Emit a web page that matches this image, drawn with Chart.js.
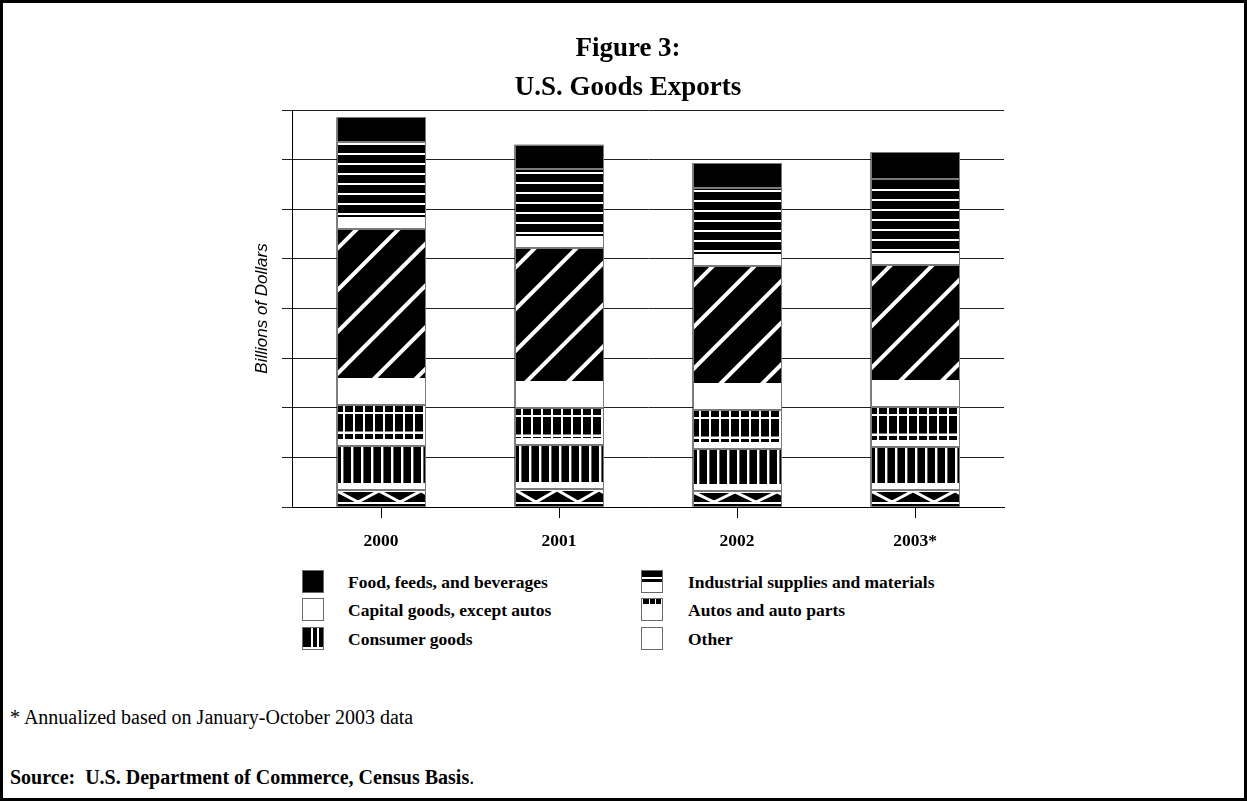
<!DOCTYPE html>
<html>
<head>
<meta charset="utf-8">
<script src="https://cdn.jsdelivr.net/npm/chart.js@4/dist/chart.umd.min.js"></script>
<style>
  html, body { margin: 0; padding: 0; background: #fff; }
  body { width: 1247px; height: 801px; position: relative; overflow: hidden; }
  #frame { position: absolute; left: 0; top: 0; width: 1247px; height: 801px; box-sizing: border-box; border: 3px solid #000; }
  #wrap { position: absolute; left: 0; top: 0; width: 1247px; height: 560px; }
  .leg { position: absolute; height: 24px; line-height: 24px; font-family: "Liberation Serif", "Times New Roman", serif; font-weight: bold; font-size: 17.5px; color: #000; white-space: nowrap; }
  .sw { position: absolute; }
  .note { position: absolute; left: 10px; font-family: "Liberation Serif", "Times New Roman", serif; font-size: 20px; color: #000; white-space: nowrap; line-height: 22px; height: 22px; }
</style>
</head>
<body>
<div id="frame"></div>
<div id="wrap"><canvas id="chart"></canvas></div>
<div id="legend"></div>
<div class="note" style="top:706px;">* Annualized based on January-October 2003 data</div>
<div class="note" style="top:766px;"><b>Source:&nbsp; U.S. Department of Commerce, Census Basis</b>.</div>
<script>
// ---- data (billions of dollars) ----
const years = ['2000', '2001', '2002', '2003*'];
const otherGoods = [35, 36, 33, 34];
const consumerGoods = [87, 88, 84, 87];
const autosParts = [83, 75, 79, 81];
const capitalGoods = [356, 322, 290, 286];
const industrialSupplies = [175, 160, 157, 173];
const foodFeeds = [49, 49, 50, 54];
const yMin = 0, yMax = 800, yStep = 100;
const titleLines = ['Figure 3:', 'U.S. Goods Exports'];
const yTitle = 'Billions of Dollars';

// ---- patterns drawn inside each bar element ----
function drawPattern(ctx, kind, L, T, W, H) {
  const B = T + H;
  ctx.fillStyle = '#000';
  ctx.fillRect(L, T, W, H);
  ctx.fillStyle = '#fff';
  ctx.strokeStyle = '#fff';
  if (kind === 'industrial') {
    const band = 12;
    ctx.fillRect(L, B - band, W, band);
    for (let yy = B - band - 3; yy > T + 1.5; yy -= 10) ctx.fillRect(L, yy - 1, W, 2);
  } else if (kind === 'capital') {
    const band = 27;
    ctx.fillRect(L, B - band, W, band);
    ctx.save();
    ctx.beginPath(); ctx.rect(L, T, W, H - band); ctx.clip();
    ctx.lineWidth = 4;
    for (let k = -2; k < 12; k++) {
      const yi = T + 20 + k * 41.7;
      ctx.beginPath(); ctx.moveTo(L - 5, yi + 5); ctx.lineTo(L + W + 5, yi - W - 5); ctx.stroke();
    }
    ctx.restore();
  } else if (kind === 'autos') {
    ctx.fillRect(L, B - 7, W, 7);
    ctx.fillRect(L, T + 7, W, 2);
    ctx.fillRect(L, T + 26.5, W, 2.5);
    for (let xx = L + 6; xx < L + W - 1; xx += 10) ctx.fillRect(xx, T, 2, H - 7);
  } else if (kind === 'consumer') {
    ctx.fillRect(L, B - 7, W, 7);
    for (let xx = L + 4; xx < L + W - 1; xx += 10) ctx.fillRect(xx, T, 2.4, H - 7);
  } else if (kind === 'other') {
    ctx.fillRect(L, T, W, 2);
    ctx.fillRect(L, B - 5, W, 2);
    ctx.save();
    ctx.beginPath(); ctx.rect(L, T + 2, W, H - 7); ctx.clip();
    ctx.lineWidth = 3;
    ctx.beginPath();
    const top = T + 1, bot = B - 5, per = 42;
    for (let xx = L - per; xx < L + W + per; xx += per) {
      ctx.moveTo(xx, top); ctx.lineTo(xx + per / 2, bot); ctx.lineTo(xx + per, top);
    }
    ctx.stroke();
    ctx.restore();
  }
}

const kinds = ['other', 'consumer', 'autos', 'capital', 'industrial', 'food'];
const names = ['Other', 'Consumer goods', 'Autos and auto parts', 'Capital goods, except autos', 'Industrial supplies and materials', 'Food, feeds, and beverages'];
const values = [otherGoods, consumerGoods, autosParts, capitalGoods, industrialSupplies, foodFeeds];

const patternPlugin = {
  id: 'patternBars',
  afterDatasetsDraw(chart) {
    const ctx = chart.ctx;
    chart.data.datasets.forEach((ds, i) => {
      const meta = chart.getDatasetMeta(i);
      meta.data.forEach(el => {
        const p = el.getProps(['x', 'y', 'base', 'width'], true);
        const L = Math.round(p.x - p.width / 2);
        const R = Math.round(p.x + p.width / 2);
        const T = Math.round(Math.min(p.y, p.base));
        const Bt = Math.round(Math.max(p.y, p.base));
        ctx.save();
        ctx.beginPath(); ctx.rect(L, T, R - L, Bt - T); ctx.clip();
        drawPattern(ctx, ds.kind, L, T, R - L, Bt - T);
        ctx.restore();
        ctx.save();
        ctx.strokeStyle = '#7a7a7a';
        ctx.lineWidth = 1;
        ctx.strokeRect(L + 0.5, T + 0.5, R - L - 1, Bt - T - 1);
        ctx.restore();
      });
    });
  }
};

const serif = '"Liberation Serif", "Times New Roman", serif';

new Chart(document.getElementById('chart'), {
  type: 'bar',
  data: {
    labels: years,
    datasets: values.map((v, i) => ({
      label: names[i], kind: kinds[i], data: v,
      backgroundColor: '#000', borderWidth: 0,
      barPercentage: 0.5, categoryPercentage: 1.0
    }))
  },
  options: {
    responsive: true, maintainAspectRatio: false, animation: false,
    layout: { padding: { left: 252, right: 243, top: 0, bottom: 0 } },
    plugins: {
      legend: { display: false },
      tooltip: { enabled: false },
      title: {
        display: true, text: titleLines, color: '#000',
        font: { family: serif, weight: 'bold', size: 27, lineHeight: 39 / 27 },
        padding: { top: 29.5, bottom: 2.5 }
      }
    },
    scales: {
      x: {
        stacked: true,
        grid: { offset: false, drawOnChartArea: false, drawTicks: true, tickLength: 11, color: '#000' },
        border: { display: true, color: '#000' },
        ticks: { color: '#000', font: { family: serif, weight: 'bold', size: 17.5 }, padding: 13, maxRotation: 0 },
        afterFit(s) { s.height = 53; }
      },
      y: {
        stacked: true, min: yMin, max: yMax,
        ticks: { stepSize: yStep, display: false },
        grid: { color: '#222', tickLength: 10, drawTicks: true },
        border: { display: true, color: '#000' },
        title: { display: true, text: yTitle, color: '#000', padding: 0,
          font: { family: '"Liberation Sans", Arial, sans-serif', style: 'italic', size: 17 } },
        afterFit(s) { s.width = 40; }
      }
    }
  },
  plugins: [patternPlugin]
});

// ---- legend (HTML, two columns) ----
function drawSwatch(c, kind) {
  const g = c.getContext('2d');
  const w = c.width, h = c.height;
  g.fillStyle = '#fff'; g.fillRect(0, 0, w, h);
  g.fillStyle = '#000';
  if (kind === 'food') { g.fillRect(0, 0, w, h); }
  else if (kind === 'industrial') { g.fillRect(0, 0, w, 7); g.fillRect(0, 9, w, 3); }
  else if (kind === 'autos') { g.fillRect(2, 1, w - 4, 5); g.fillStyle = '#fff'; g.fillRect(8, 1, 1, 5); g.fillRect(14, 1, 1, 5); }
  else if (kind === 'consumer') { g.fillRect(0, 0, w, h - 3); g.fillStyle = '#fff'; g.fillRect(9, 0, 2, h - 3); g.fillRect(15, 0, 2, h - 3); }
  g.strokeStyle = '#6a6a6a'; g.lineWidth = 1; g.strokeRect(0.5, 0.5, w - 1, h - 1);
}
const legendItems = [
  { kind: 'food', col: 0, row: 0 }, { kind: 'industrial', col: 1, row: 0 },
  { kind: 'capital', col: 0, row: 1 }, { kind: 'autos', col: 1, row: 1 },
  { kind: 'consumer', col: 0, row: 2 }, { kind: 'other', col: 1, row: 2 }
];
const legEl = document.getElementById('legend');
const colSw = [302, 641], colTx = [348, 688], rowTop = [570, 598, 627];
legendItems.forEach(it => {
  const idx = kinds.indexOf(it.kind);
  const c = document.createElement('canvas');
  c.width = 22; c.height = 23; c.className = 'sw';
  c.style.left = colSw[it.col] + 'px'; c.style.top = rowTop[it.row] + 'px';
  drawSwatch(c, it.kind);
  legEl.appendChild(c);
  const t = document.createElement('div');
  t.className = 'leg'; t.textContent = names[idx];
  t.style.left = colTx[it.col] + 'px'; t.style.top = (rowTop[it.row] - 0.5) + 'px';
  legEl.appendChild(t);
});
</script>
</body>
</html>
